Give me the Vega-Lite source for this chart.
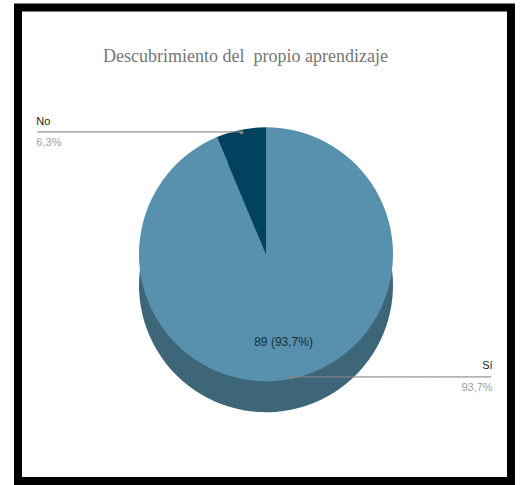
{
  "$schema": "https://vega.github.io/schema/vega-lite/v6.json",
  "width": 522,
  "height": 485,
  "autosize": {"type": "fit", "contains": "padding"},
  "padding": {"left": 18, "top": 7.5, "right": 11, "bottom": 4},
  "background": "white",
  "view": {"stroke": "#000000", "strokeWidth": 8, "fill": "white"},
  "config": {"view": {"stroke": "#000000", "strokeWidth": 8}},
  "title": {
    "text": "Descubrimiento del\u00a0 propio aprendizaje",
    "font": "Liberation Serif",
    "fontSize": 18,
    "fontWeight": "normal",
    "color": "#757575",
    "anchor": "middle",
    "dx": -19,
    "offset": -58
  },
  "data": {
    "values": [
      {"respuesta": "Sí", "n": 89, "pct": "93,7%", "etiqueta": "89 (93,7%)"},
      {"respuesta": "No", "n": 6, "pct": "6,3%", "etiqueta": "6 (6,3%)"}
    ]
  },
  "encoding": {
    "theta": {"field": "n", "type": "quantitative", "stack": true},
    "order": {"field": "n", "sort": "descending"}
  },
  "layer": [
    {
      "mark": {"type": "arc", "radius": 127, "xOffset": 1.5, "yOffset": 41, "fill": "#3e6679", "stroke": null}
    },
    {
      "mark": {"type": "arc", "radius": 127, "xOffset": 1.5, "yOffset": 10, "stroke": null},
      "encoding": {
        "color": {"field": "respuesta", "type": "nominal", "legend": null,
          "scale": {"domain": ["Sí", "No"], "range": ["#5891ae", "#02425f"]}}
      }
    },
    {
      "mark": {"type": "text", "radius": 89, "xOffset": 1.5, "yOffset": 10, "font": "Liberation Sans", "fontSize": 12, "color": "#1b2b35", "align": "center", "baseline": "middle"},
      "encoding": {"text": {"condition": {"test": "datum.respuesta === 'Sí'", "field": "etiqueta"}, "value": ""}}
    },
    {
      "mark": {"type": "text", "radius": 125, "xOffset": 1.5, "yOffset": 10, "font": "DejaVu Sans Mono", "fontSize": 6, "color": "#858585", "align": "right", "baseline": "middle", "dx": 1.8},
      "encoding": {"text": {"condition": {"test": "datum.respuesta === 'No'", "value": "━━━━━━━━━━━━━━━━━━━━━━━━━━━━━━━━━━━━━━━━━━━━━━━━━━━━━━━━●"}, "value": ""}}
    },
    {
      "mark": {"type": "text", "radius": 125, "xOffset": 1.5, "yOffset": 10, "font": "DejaVu Sans Mono", "fontSize": 6, "color": "#858585", "align": "left", "baseline": "middle", "dx": -1.8},
      "encoding": {"text": {"condition": {"test": "datum.respuesta === 'Sí'", "value": "●━━━━━━━━━━━━━━━━━━━━━━━━━━━━━━━━━━━━━━━━━━━━━━━━━━━━━━━"}, "value": ""}}
    },
    {
      "mark": {"type": "text", "radius": 125, "xOffset": 1.5, "yOffset": 10, "font": "Liberation Sans", "fontSize": 11, "color": "#222222", "align": "left", "baseline": "alphabetic", "dx": -205, "dy": -7},
      "encoding": {"text": {"condition": {"test": "datum.respuesta === 'No'", "field": "respuesta"}, "value": ""}}
    },
    {
      "mark": {"type": "text", "radius": 125, "xOffset": 1.5, "yOffset": 10, "font": "Liberation Sans", "fontSize": 11, "color": "#9e9e9e", "align": "left", "baseline": "alphabetic", "dx": -205, "dy": 14},
      "encoding": {"text": {"condition": {"test": "datum.respuesta === 'No'", "field": "pct"}, "value": ""}}
    },
    {
      "mark": {"type": "text", "radius": 125, "xOffset": 1.5, "yOffset": 10, "font": "Liberation Sans", "fontSize": 11, "color": "#222222", "align": "right", "baseline": "alphabetic", "dx": 202, "dy": -7.5},
      "encoding": {"text": {"condition": {"test": "datum.respuesta === 'Sí'", "field": "respuesta"}, "value": ""}}
    },
    {
      "mark": {"type": "text", "radius": 125, "xOffset": 1.5, "yOffset": 10, "font": "Liberation Sans", "fontSize": 11, "color": "#9e9e9e", "align": "right", "baseline": "alphabetic", "dx": 202, "dy": 14.5},
      "encoding": {"text": {"condition": {"test": "datum.respuesta === 'Sí'", "field": "pct"}, "value": ""}}
    }
  ]
}
